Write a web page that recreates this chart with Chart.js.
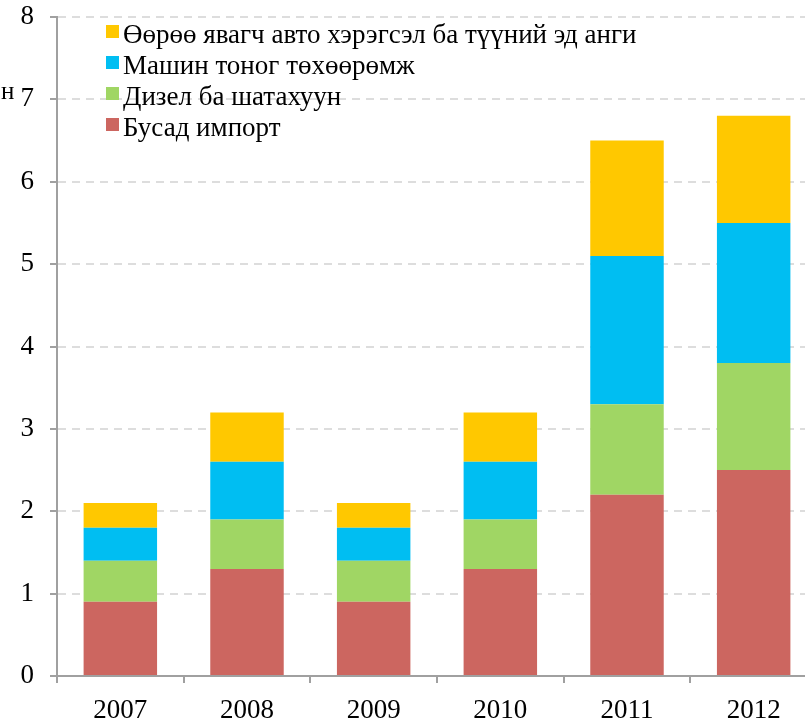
<!DOCTYPE html>
<html>
<head>
<meta charset="utf-8">
<script src="https://cdn.jsdelivr.net/npm/chart.js@4"></script>
<style>
  html, body { margin: 0; padding: 0; background: #fff; overflow: hidden; }
  .wrap { position: relative; width: 820px; height: 721px; }
  .side { position: absolute; left: 1px; top: 77px; font: 25px "Liberation Serif", serif; color: #000; }
  .legend { position: absolute; left: 106px; top: 19px; font: 27px "Liberation Serif", serif; color: #000; }
  .legend div { height: 31px; line-height: 31px; white-space: nowrap; }
  .legend span { display: inline-block; width: 13px; height: 13px; margin-right: 4px; vertical-align: 5px; }
</style>
</head>
<body>
<div class="wrap">
  <canvas class="js-chart" width="820" height="721"></canvas>
  <div class="side">н</div>
  <div class="legend js-legend"></div>
</div>
<script>
const years = ['2007', '2008', '2009', '2010', '2011', '2012'];
const other = [0.9, 1.3, 0.9, 1.3, 2.2, 2.5];
const diesel = [0.5, 0.6, 0.5, 0.6, 1.1, 1.3];
const machinery = [0.4, 0.7, 0.4, 0.7, 1.8, 1.7];
const vehicles = [0.3, 0.6, 0.3, 0.6, 1.4, 1.3];
const yTicks = [0, 1, 2, 3, 4, 5, 6, 7, 8];

const ctx = document.querySelector('.js-chart').getContext('2d');
const FONT = { family: '"Liberation Serif", serif', size: 27 };

const datasets = [
  { label: 'Бусад импорт', data: other, backgroundColor: '#cc6660' },
  { label: 'Дизел ба шатахуун', data: diesel, backgroundColor: '#a0d664' },
  { label: 'Машин тоног төхөөрөмж', data: machinery, backgroundColor: '#00bef2' },
  { label: 'Өөрөө явагч авто хэрэгсэл ба түүний эд анги', data: vehicles, backgroundColor: '#ffc800' },
];

const legend = document.querySelector('.js-legend');
datasets.slice().reverse().forEach(ds => {
  const row = document.createElement('div');
  row.innerHTML = '<span style="background:' + ds.backgroundColor + '"></span>' + ds.label;
  legend.appendChild(row);
});

new Chart(ctx, {
  type: 'bar',
  data: { labels: years, datasets },
  options: {
    responsive: false,
    animation: false,
    layout: { padding: { top: 17, right: 3, left: 0, bottom: 0 } },
    datasets: { bar: { barPercentage: 0.58, categoryPercentage: 1 } },
    plugins: { legend: { display: false }, tooltip: { enabled: false } },
    scales: {
      x: {
        stacked: true,
        offset: true,
        grid: { offset: true, drawOnChartArea: false, tickLength: 7, tickColor: '#a0a0a0', lineWidth: 2 },
        border: { color: '#a0a0a0', width: 2 },
        ticks: { color: '#000', font: FONT, padding: 12 },
        afterFit(scale) { scale.height = 45; },
      },
      y: {
        stacked: true,
        min: 0,
        max: 8,
        afterBuildTicks(scale) { scale.ticks = yTicks.map(value => ({ value })); },
        grid: { color: '#dddddd', lineWidth: 2, tickLength: 7, tickColor: '#a0a0a0', tickBorderDash: [] },
        border: { color: '#a0a0a0', width: 2, dash: [8, 6] },
        ticks: { color: '#000', font: FONT, padding: 16 },
        afterFit(scale) {
          scale.width = 57;
          scale.paddingTop = 0;
          scale.paddingBottom = 0;
        },
      },
    },
  },
});
</script>
</body>
</html>
